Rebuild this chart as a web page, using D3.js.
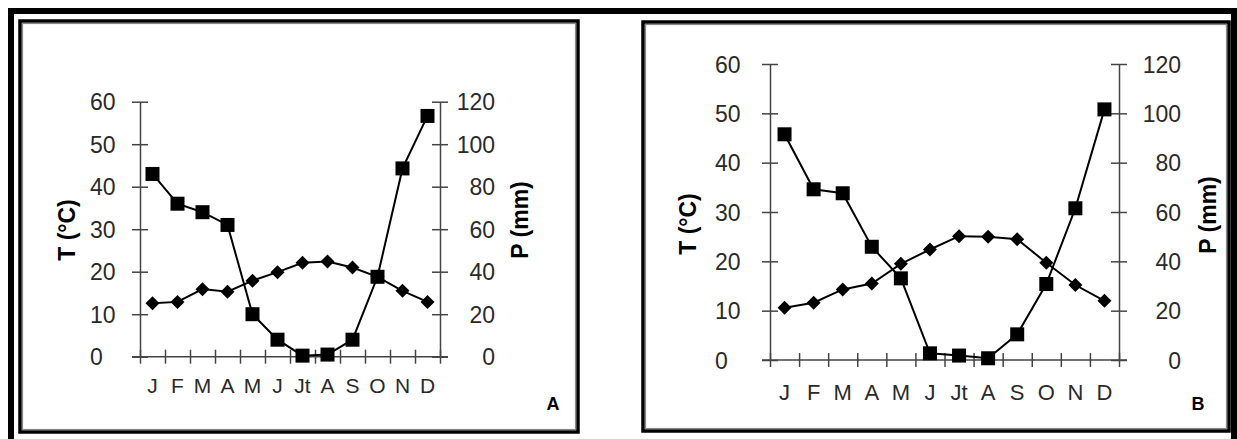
<!DOCTYPE html>
<html>
<head>
<meta charset="utf-8">
<script src="https://cdn.jsdelivr.net/npm/d3@7"></script>
<style>
  body { margin: 0; background: #fff; }
  svg { display: block; font-family: "Liberation Sans", Arial, sans-serif; }
</style>
</head>
<body>
<script>
// months and tick labels
const months = ["J", "F", "M", "A", "M", "J", "Jt", "A", "S", "O", "N", "D"];
const tempTicks = [0, 10, 20, 30, 40, 50, 60];
const precTicks = [0, 20, 40, 60, 80, 100, 120];

// station A
const tempA = [12.6, 12.9, 15.9, 15.3, 17.9, 19.9, 22.1, 22.4, 21.0, 18.8, 15.5, 12.9];
const precA = [86, 72, 68, 62, 20, 8, 0.5, 1, 8, 37.6, 88.6, 113.3];

// station B
const tempB = [10.6, 11.6, 14.3, 15.5, 19.5, 22.4, 25.1, 25.0, 24.5, 19.7, 15.2, 12.0];
const precB = [91.5, 69.2, 67.6, 45.9, 33.1, 2.7, 1.8, 0.7, 10.4, 30.8, 61.5, 101.6];

const width = 1237, height = 439;

const svg = d3.select("body").append("svg")
    .attr("width", width)
    .attr("height", height);

// big outer border (open at the bottom)
svg.append("path")
    .attr("d", "M11,439 V11 H1234 V439")
    .attr("fill", "none")
    .attr("stroke", "#000")
    .attr("stroke-width", 6);

function drawPanel(p) {
    const g = svg.append("g");

    // panel frame: black line with a grey line inside
    g.append("rect")
        .attr("x", p.frame[0]).attr("y", p.frame[1])
        .attr("width", p.frame[2]).attr("height", p.frame[3])
        .attr("fill", "#fff").attr("stroke", "#000").attr("stroke-width", 3.5);
    g.append("rect")
        .attr("x", p.frame[0] + 2.5).attr("y", p.frame[1] + 2.5)
        .attr("width", p.frame[2] - 5).attr("height", p.frame[3] - 5)
        .attr("fill", "none").attr("stroke", "#888").attr("stroke-width", 1.2);

    const x = d3.scaleBand().domain(d3.range(12)).range([p.left, p.right]);
    const xEdge = d3.scaleLinear().domain([0, 12]).range([p.left, p.right]);
    const yT = d3.scaleLinear().domain([0, 60]).range([p.bottom, p.top]);
    const yP = d3.scaleLinear().domain([0, 120]).range([p.bottom, p.top]);

    const axisCol = "#444";

    // left axis (temperature)
    const gl = g.append("g")
        .attr("transform", "translate(" + p.left + ",0)")
        .call(d3.axisLeft(yT).tickValues(tempTicks).tickSizeOuter(0));
    gl.selectAll(".tick line").attr("x1", -8).attr("x2", 8).attr("stroke", axisCol).attr("stroke-width", 1.5);
    gl.selectAll(".tick text")
        .attr("x", p.leftLab - p.left)
        .attr("text-anchor", "start")
        .attr("dy", "0.36em")
        .style("font-size", "23px")
        .style("fill", "#2a2a2a");

    // right axis (precipitation)
    const gr = g.append("g")
        .attr("transform", "translate(" + p.right + ",0)")
        .call(d3.axisRight(yP).tickValues(precTicks).tickSizeOuter(0));
    gr.selectAll(".tick line").attr("x1", -8).attr("x2", 8).attr("stroke", axisCol).attr("stroke-width", 1.5);
    gr.selectAll(".tick text")
        .attr("x", p.rightLab - p.right)
        .attr("text-anchor", "end")
        .attr("dy", "0.36em")
        .style("font-size", "23px")
        .style("fill", "#2a2a2a");

    [gl, gr].forEach(a => a.select(".domain").attr("stroke", axisCol).attr("stroke-width", 1.5));

    // x axis: ticks between months, crossing the line
    const gx = g.append("g")
        .attr("transform", "translate(0," + p.bottom + ")")
        .call(d3.axisBottom(xEdge).ticks(12).tickFormat("").tickSizeOuter(0));
    gx.select(".domain").remove();
    gx.selectAll(".tick line").attr("y1", -7).attr("y2", 7).attr("stroke", axisCol).attr("stroke-width", 1.5);
    gx.append("line")
        .attr("x1", p.left - 8).attr("x2", p.right + 8)
        .attr("stroke", axisCol).attr("stroke-width", 1.5);

    // month labels
    const gm = g.append("g")
        .attr("transform", "translate(0," + p.bottom + ")")
        .call(d3.axisBottom(x).tickSize(0).tickFormat(i => months[i]));
    gm.select(".domain").remove();
    gm.selectAll(".tick text")
        .attr("y", p.monthDy)
        .attr("dy", 0)
        .style("font-size", p.monthSize)
        .style("fill", "#2a2a2a");

    // axis titles
    g.append("text")
        .attr("transform", "translate(" + p.tTitle[0] + "," + p.tTitle[1] + ") rotate(-90)")
        .attr("text-anchor", "middle")
        .attr("dy", "0.35em")
        .style("font-size", "23px").style("font-weight", "bold")
        .text("T (°C)");
    g.append("text")
        .attr("transform", "translate(" + p.pTitle[0] + "," + p.pTitle[1] + ") rotate(-90)")
        .attr("text-anchor", "middle")
        .attr("dy", "0.35em")
        .style("font-size", "23px").style("font-weight", "bold")
        .text("P (mm)");

    // panel letter
    g.append("text")
        .attr("x", p.letter[0]).attr("y", p.letter[1])
        .attr("text-anchor", "middle")
        .attr("dy", "0.36em")
        .style("font-size", "18px").style("font-weight", "bold")
        .text(p.name);

    const cx = i => x(i) + x.bandwidth() / 2;

    // temperature line + diamonds
    g.append("path")
        .datum(p.temp)
        .attr("fill", "none").attr("stroke", "#000").attr("stroke-width", 2)
        .attr("d", d3.line().x((d, i) => cx(i)).y(d => yT(d)));
    g.selectAll(".diam")
        .data(p.temp)
        .enter().append("path")
        .attr("class", "diam")
        .attr("transform", (d, i) => "translate(" + cx(i) + "," + yT(d) + ")")
        .attr("d", "M0,-7 L7,0 L0,7 L-7,0 Z")
        .attr("fill", "#000");

    // precipitation line + squares
    g.append("path")
        .datum(p.prec)
        .attr("fill", "none").attr("stroke", "#000").attr("stroke-width", 2)
        .attr("d", d3.line().x((d, i) => cx(i)).y(d => yP(d)));
    g.selectAll(".sq")
        .data(p.prec)
        .enter().append("rect")
        .attr("class", "sq")
        .attr("x", (d, i) => cx(i) - 7)
        .attr("y", d => yP(d) - 7)
        .attr("width", 14).attr("height", 14)
        .attr("fill", "#000");
}

drawPanel({
    name: "A", temp: tempA, prec: precA,
    frame: [20, 21, 558, 411],
    left: 140, right: 440, top: 101.7, bottom: 356.7,
    leftLab: 90, rightLab: 495, monthDy: 36, monthSize: "21px",
    tTitle: [67, 230], pTitle: [520, 220], letter: [553, 404]
});

drawPanel({
    name: "B", temp: tempB, prec: precB,
    frame: [643, 22, 586, 409],
    left: 770, right: 1119, top: 64, bottom: 360,
    leftLab: 715, rightLab: 1181, monthDy: 40, monthSize: "22px",
    tTitle: [688, 224], pTitle: [1208, 215], letter: [1198, 404]
});
</script>
</body>
</html>
